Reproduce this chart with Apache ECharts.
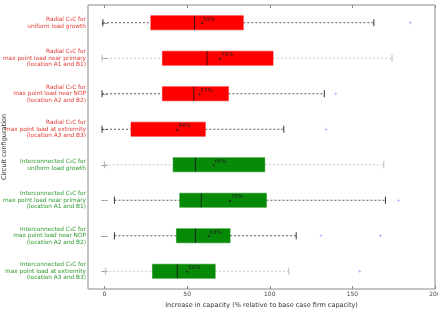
<!DOCTYPE html>
<html><head><meta charset="utf-8">
<script src="https://cdn.jsdelivr.net/npm/echarts@6/dist/echarts.min.js"></script>
<style>html,body{margin:0;padding:0;background:#fff}#c{width:438px;height:309px}</style>
</head><body><div id="c"></div>
<script>
const categories = [
  'Radial C\u2083C for\nuniform load growth',
  'Radial C\u2083C for\nmax point load near primary\n(location A1 and B1)',
  'Radial C\u2083C for\nmax point load near NOP\n(location A2 and B2)',
  'Radial C\u2083C for\nmax point load at extremity\n(location A3 and B3)',
  'Interconnected C\u2083C for\nuniform load growth',
  'Interconnected C\u2083C for\nmax point load near primary\n(location A1 and B1)',
  'Interconnected C\u2083C for\nmax point load near NOP\n(location A2 and B2)',
  'Interconnected C\u2083C for\nmax point load at extremity\n(location A3 and B3)'
];
const groupOf = ['radial','radial','radial','radial','inter','inter','inter','inter'];
const whiskerLow  = [-1, -1.5, -1.5, -1.5, 0, 6, 6, 0.5];
const q1Values    = [28, 35, 35, 16, 41.5, 45.5, 43.5, 29];
const medians     = [54.5, 62, 54, null, 55, 58.5, 55, 44];
const q3Values    = [84, 102, 75, 61, 97, 98, 76, 67];
const whiskerHigh = [163, 174, 133, 108.5, 169, 170, 116, 111.5];
const means       = [59, 70, 57.5, 44, 66, 76, 63, 50];
const meanLabels  = ['59%', '70%', '57%', '44%', '66%', '76%', '63%', '50%'];
const whiskerTone = ['dark','light','dark','dark','light','dark','dark','light'];
const outliers = [[185, 0], [140, 2], [134, 3], [178, 5], [131, 6], [167, 6], [154.5, 7]];
const xTicks = [0, 50, 100, 150, 200];

const boxColor = {radial: '#ff0000', inter: '#078a07'};
const labelColor = {radial: '#e23b36', inter: '#2f9a2f'};
const toneColor = {dark: '#333333', light: '#bbbbbb'};

const boxData = categories.map((c, i) => [i, whiskerLow[i], q1Values[i], medians[i] == null ? NaN : medians[i], q3Values[i], whiskerHigh[i], means[i]]);

const chart = echarts.init(document.getElementById('c'));
chart.setOption({
  animation: false,
  grid: {left: 88, right: 3, top: 5, bottom: 20, show: true, borderColor: '#8a8a8a', borderWidth: 1, outerBoundsMode: 'none', containLabel: false},
  graphic: [{
    type: 'text', x: 4, y: 147, rotation: Math.PI / 2,
    style: {text: 'Circuit configuration', fontSize: 6.5, fill: '#333', fontFamily: 'DejaVu Sans', align: 'center', verticalAlign: 'middle'}
  }],
  xAxis: [{
    type: 'value', min: -10, max: 200,
    name: 'Increase in capacity (% relative to base case firm capacity)',
    nameLocation: 'middle', nameGap: 5,
    nameTextStyle: {fontSize: 6.5, color: '#333', fontFamily: 'DejaVu Sans', verticalAlign: 'top'},
    axisLine: {show: false},
    splitLine: {show: false},
    axisTick: {show: true, inside: true, length: 3, lineStyle: {color: '#888'}, customValues: xTicks},
    axisLabel: {fontSize: 6, color: '#444', margin: 2, fontFamily: 'DejaVu Sans', customValues: xTicks}
  }, {
    type: 'value', min: -10, max: 200, position: 'top',
    axisLine: {show: false}, splitLine: {show: false},
    axisTick: {show: true, inside: true, length: 3, lineStyle: {color: '#888'}, customValues: xTicks},
    axisLabel: {show: false}
  }],
  yAxis: [{
    type: 'category', data: categories, inverse: true,
    axisLine: {show: false},
    axisTick: {show: true, inside: true, length: 3, alignWithLabel: true, lineStyle: {color: '#999'}},
    axisLabel: {
      fontSize: 5.8, lineHeight: 6.6, margin: 2, fontFamily: 'DejaVu Sans', align: 'right',
      color: (v, i) => labelColor[groupOf[i]]
    }
  }, {
    type: 'category', data: categories, inverse: true, position: 'right',
    axisLine: {show: false},
    axisTick: {show: true, inside: true, length: 3, alignWithLabel: true, lineStyle: {color: '#999'}},
    axisLabel: {show: false}
  }],
  series: [{
    type: 'custom',
    xAxisIndex: 0, yAxisIndex: 0,
    data: boxData,
    encode: {x: [1, 2, 3, 4, 5, 6], y: 0},
    renderItem: function (params, api) {
      const i = params.dataIndex;
      const cat = api.value(0);
      const band = api.size([0, 1])[1];
      const h = band * 0.4;
      const cap = h * 0.5;
      const lo = api.coord([api.value(1), cat]);
      const p1 = api.coord([api.value(2), cat]);
      const med = api.value(3);
      const p3 = api.coord([api.value(4), cat]);
      const hi = api.coord([api.value(5), cat]);
      const pm = api.coord([api.value(6), cat]);
      const y = lo[1];
      const wc = toneColor[whiskerTone[i]];
      const dash = {stroke: wc, lineWidth: 0.8, lineDash: [2, 2]};
      const children = [
        {type: 'line', shape: {x1: lo[0], y1: y, x2: p1[0], y2: y}, style: dash},
        {type: 'line', shape: {x1: p3[0], y1: y, x2: hi[0], y2: y}, style: dash},
        {type: 'line', shape: {x1: lo[0], y1: y - cap / 2, x2: lo[0], y2: y + cap / 2}, style: {stroke: wc, lineWidth: 1}},
        {type: 'line', shape: {x1: hi[0], y1: y - cap / 2, x2: hi[0], y2: y + cap / 2}, style: {stroke: wc, lineWidth: 1}},
        {type: 'rect', shape: {x: p1[0], y: y - h / 2, width: p3[0] - p1[0], height: h}, style: {fill: boxColor[groupOf[i]], stroke: boxColor[groupOf[i]], lineWidth: 0.5}}
      ];
      if (!isNaN(med)) {
        const pmed = api.coord([med, cat]);
        children.push({type: 'line', shape: {x1: pmed[0], y1: y - h / 2, x2: pmed[0], y2: y + h / 2}, style: {stroke: '#111', lineWidth: 0.8}});
      }
      children.push({type: 'circle', shape: {cx: pm[0], cy: y + 0.5, r: 1}, style: {fill: '#222'}});
      children.push({type: 'text', style: {x: pm[0] + 1, y: y - 0.5, text: meanLabels[i], fontSize: 5.5, fill: '#222', fontFamily: 'DejaVu Sans', verticalAlign: 'bottom', align: 'left'}});
      return {type: 'group', children: children};
    }
  }, {
    type: 'scatter',
    xAxisIndex: 0, yAxisIndex: 0,
    data: outliers,
    symbol: 'path://M4,0H6V4H10V6H6V10H4V6H0V4H4Z',
    symbolSize: 3,
    itemStyle: {color: '#7a7aff'}
  }]
});
</script>
</body></html>
